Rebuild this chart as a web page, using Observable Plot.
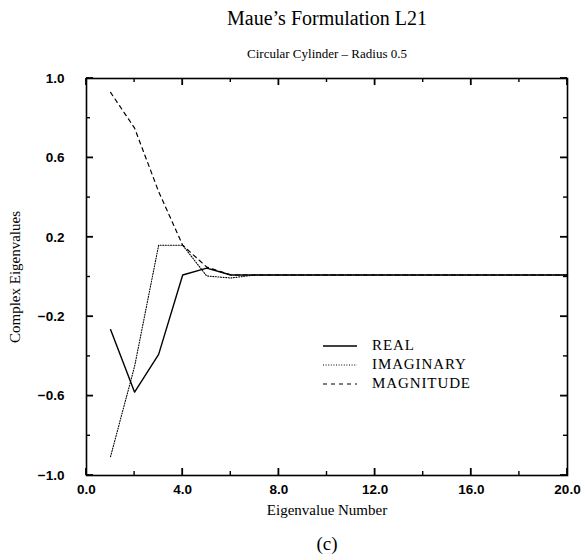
<!DOCTYPE html>
<html>
<head>
<meta charset="utf-8">
<script src="https://cdn.jsdelivr.net/npm/d3@7"></script>
<script src="https://cdn.jsdelivr.net/npm/@observablehq/plot@0.6"></script>
<style>
  html, body { margin: 0; padding: 0; background: #fff; }
  #wrap { position: relative; width: 585px; height: 560px; }
  #legend { position: absolute; left: 322px; top: 336px; font-family: "Liberation Serif", serif; font-size: 15px; letter-spacing: 0.9px; }
  #legend div { height: 19px; display: flex; align-items: center; }
  #legend svg { margin-right: 14px; }
</style>
</head>
<body>
<div id="wrap"><div id="legend"></div></div>
<script>
// Eigenvalue numbers
const eigenNumber = [1,2,3,4,5,6,7,8,9,10,11,12,13,14,15,16,17,18,19,20];
// Series values
const realPart = [-0.265,-0.58,-0.39,0.01,0.045,0.01,0.01,0.01,0.01,0.01,0.01,0.01,0.01,0.01,0.01,0.01,0.01,0.01,0.01,0.01];
const imagPart = [-0.905,-0.45,0.16,0.16,0.005,-0.005,0.01,0.01,0.01,0.01,0.01,0.01,0.01,0.01,0.01,0.01,0.01,0.01,0.01,0.01];
const magnitude = [0.93,0.75,0.43,0.16,0.05,0.01,0.01,0.01,0.01,0.01,0.01,0.01,0.01,0.01,0.01,0.01,0.01,0.01,0.01,0.01];
const seriesNames = ["REAL","IMAGINARY","MAGNITUDE"];
const xTicks = [0,4,8,12,16,20];
const xMinor = [2,6,10,14,18];
const yTicks = [-1.0,-0.6,-0.2,0.2,0.6,1.0];
const yMinor = [-0.8,-0.4,0,0.4,0.8];
const titleText = "Maue\u2019s Formulation L21";
const subtitleText = "Circular Cylinder \u2013 Radius 0.5";
const xLabel = "Eigenvalue Number";
const yLabel = "Complex Eigenvalues";
const panelLabel = "(c)";

const W = 585, H = 560, mL = 86, mR = 18, mT = 78, mB = 85;

const styles = {
  REAL: {dash: null, width: 1.4},
  IMAGINARY: {dash: "1,1.6", width: 1.1},
  MAGNITUDE: {dash: "4,4", width: 1.2}
};
const series = [realPart, imagPart, magnitude];
const rows = [];
series.forEach((vals, s) => vals.forEach((v, i) => rows.push({n: eigenNumber[i], v, s: seriesNames[s]})));

const fmt = d3.format(".1f");
const tickFont = {fontFamily: "Liberation Sans, Arial, sans-serif", fontSize: 13.5, fontWeight: "bold"};

const marks = [];
for (const name of seriesNames) {
  marks.push(Plot.line(rows.filter(d => d.s === name), {
    x: "n", y: "v", stroke: "black", strokeWidth: styles[name].width,
    strokeDasharray: styles[name].dash
  }));
}
marks.push(
  Plot.axisX({ticks: xTicks, tickSize: 0, tickPadding: 9, tickFormat: fmt, ...tickFont, label: null}),
  Plot.axisY({ticks: yTicks, tickSize: 0, tickPadding: 22, tickFormat: fmt, ...tickFont, label: null}),
  Plot.frame({stroke: "black", strokeWidth: 1.6}),
  Plot.text([titleText], {text: d => d, frameAnchor: "top", lineAnchor: "middle", dy: -60, fontFamily: "Liberation Serif, serif", fontSize: 20}),
  Plot.text([subtitleText], {text: d => d, frameAnchor: "top", lineAnchor: "middle", dy: -25, fontFamily: "Liberation Serif, serif", fontSize: 13}),
  Plot.text([xLabel], {text: d => d, frameAnchor: "bottom", lineAnchor: "middle", dy: 35, fontFamily: "Liberation Serif, serif", fontSize: 15}),
  Plot.text([panelLabel], {text: d => d, frameAnchor: "bottom", lineAnchor: "middle", dy: 68, fontFamily: "Liberation Serif, serif", fontSize: 19}),
  Plot.text([yLabel], {text: d => d, frameAnchor: "left", textAnchor: "middle", lineAnchor: "middle", dx: -71, rotate: -90, fontFamily: "Liberation Serif, serif", fontSize: 15})
);

const chart = Plot.plot({
  width: W, height: H,
  marginLeft: mL, marginRight: mR, marginTop: mT, marginBottom: mB,
  x: {domain: [0, 20]},
  y: {domain: [-1, 1]},
  style: {background: "white", color: "black", overflow: "visible"},
  marks
});
document.getElementById("wrap").prepend(chart);
chart.style.position = "absolute"; chart.style.left = "0"; chart.style.top = "0";

// inward tick marks, positioned through the chart's own scales
const sx = chart.scale("x"), sy = chart.scale("y");
const x0 = sx.apply(0), x1 = sx.apply(20), y0 = sy.apply(-1), y1 = sy.apply(1);
const g = d3.select(chart).append("g").attr("stroke", "black");
const addX = (vals, len, sw) => vals.forEach(v => {
  const px = sx.apply(v);
  g.append("line").attr("x1", px).attr("x2", px).attr("y1", y0).attr("y2", y0 - len).attr("stroke-width", sw);
  g.append("line").attr("x1", px).attr("x2", px).attr("y1", y1).attr("y2", y1 + len).attr("stroke-width", sw);
});
const addY = (vals, len, sw) => vals.forEach(v => {
  const py = sy.apply(v);
  g.append("line").attr("y1", py).attr("y2", py).attr("x1", x0).attr("x2", x0 + len).attr("stroke-width", sw);
  g.append("line").attr("y1", py).attr("y2", py).attr("x1", x1).attr("x2", x1 - len).attr("stroke-width", sw);
});
addX(xTicks, 7, 1.8); addX(xMinor, 4, 1.4);
addY(yTicks, 7, 1.8); addY(yMinor, 4, 1.4);

// legend
const legend = document.getElementById("legend");
for (const name of seriesNames) {
  const row = document.createElement("div");
  const st = styles[name];
  row.innerHTML = `<svg width="36" height="6"><line x1="1" x2="35" y1="3" y2="3" stroke="black" stroke-width="${st.width}" ${st.dash ? `stroke-dasharray="${st.dash}"` : ""}/></svg><span>${name}</span>`;
  legend.appendChild(row);
}
</script>
</body>
</html>
